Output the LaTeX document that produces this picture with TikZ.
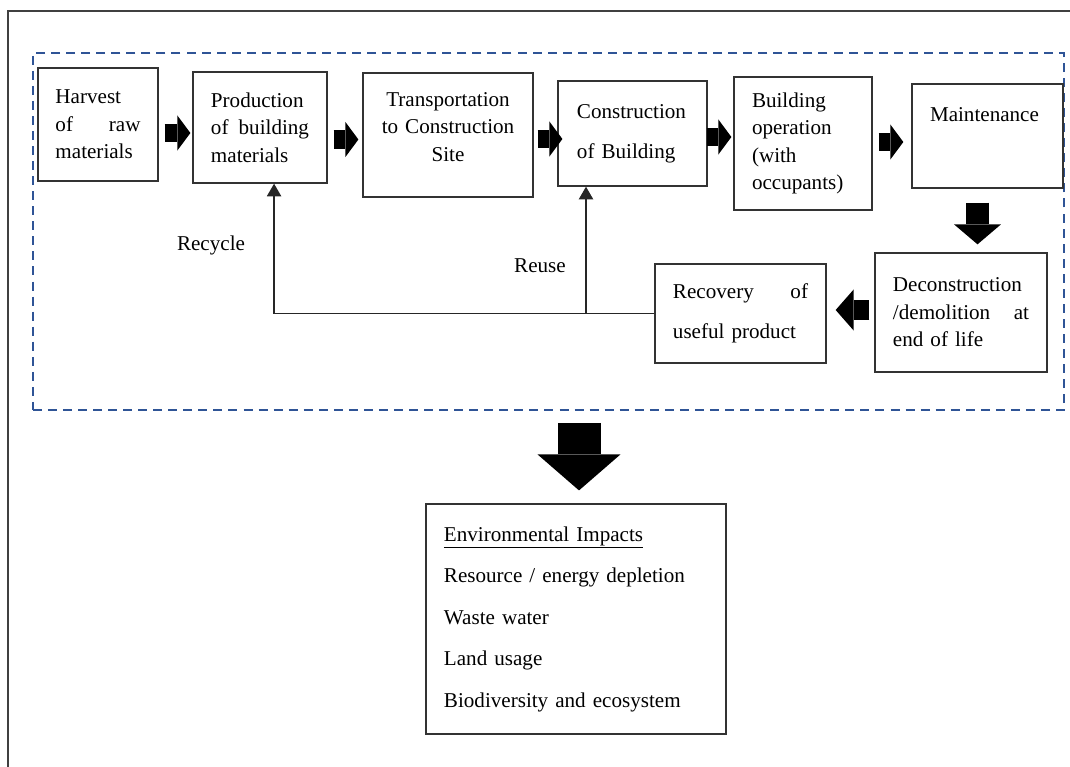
\documentclass[tikz,border=0pt]{standalone}
\usepackage{fontspec}
\setmainfont{Liberation Serif}
\usetikzlibrary{arrows.meta, calc}

\newdimen\pxu \pxu=0.7113pt
\definecolor{frameblue}{RGB}{47,84,150}

\begin{document}
\begin{tikzpicture}[x=0.025cm, y=-0.025cm,
    every node/.style={font=\fontsize{15}{19.6}\selectfont},
    stage/.style={draw=black!80, line width=0.9pt, inner sep=0pt, align=left},
    flowarrow/.style={line width=18\pxu, -{Triangle[length=9.25pt, width=24.9pt, line width=0pt]}},
    droparrow/.style={line width=23\pxu, -{Triangle[length=14.2pt, width=33.4pt, line width=0pt]}},
    backarrow/.style={line width=20\pxu, -{Triangle[length=12.8pt, width=29.2pt, line width=0pt]}},
    bigarrow/.style={line width=43\pxu, -{Triangle[length=25.6pt, width=59pt, line width=0pt]}},
    loopline/.style={draw=black!85, line width=1.4pt, -{Triangle[length=9pt, width=10pt]}}]

\useasboundingbox (0,0) rectangle (1070,767);

% page frame
\draw[black!75, line width=0.8pt] (8,767) -- (8,11) -- (1070,11);

% life cycle boundary
\node[draw=frameblue, line width=1.4pt, dash pattern=on 6.4pt off 4.3pt,
      minimum width=1031\pxu, minimum height=357\pxu] (lifecycle) at (548.5,231.5) {};

% stages
\node[stage, minimum width=120\pxu, minimum height=113\pxu, text width=85\pxu] (harvest) at (98,124.5)
    {Harvest\\ of\hfill raw\\ materials};
\node[stage, minimum width=134\pxu, minimum height=111\pxu, text width=98\pxu] (prod) at (260,127.5)
    {Production\\ of\hfill building\\ materials};
\node[stage, minimum width=170\pxu, minimum height=124\pxu, text width=150\pxu, align=center] (trans) at (448,135)
    {Transportation\\ to Construction\\ Site\\[-8pt]\mbox{}};
\node[stage, minimum width=149\pxu, minimum height=105\pxu, text width=111\pxu] (constr) at (632.5,133.5)
    {Construction\\[8.9pt] of Building};
\node[stage, minimum width=138\pxu, minimum height=133\pxu, text width=102\pxu] (oper) at (803,143.5)
    {Building\\ operation\\ (with\\ occupants)};
\node[stage, minimum width=151\pxu, minimum height=104\pxu, text width=115\pxu] (maint) at (987.5,136)
    {Maintenance\\[10.4pt]\mbox{}};
\node[stage, minimum width=172\pxu, minimum height=119\pxu, text width=136\pxu] (decon) at (961,312.5)
    {Deconstruction\\ /demolition\hfill at\\ end of life};
\node[stage, minimum width=171\pxu, minimum height=99\pxu, text width=135\pxu] (recovery) at (740.5,313.5)
    {Recovery\hfill of\\[8.9pt] useful product};

% impacts
\node[stage, minimum width=300\pxu, minimum height=230\pxu, text width=264\pxu] (impacts) at (576,619)
    {\underline{Environmental Impacts}\\[9.9pt] Resource / energy depletion\\[9.9pt] Waste water\\[9.9pt]
     Land usage\\[9.9pt] Biodiversity and ecosystem};

% flow between stages
\draw[flowarrow, shorten <=4.3pt, shorten >=1.4pt] (harvest.east |- 0,133) -- (prod.west |- 0,133);
\draw[flowarrow, shorten <=4.3pt, shorten >=2.8pt] (prod.east |- 0,139.5) -- (trans.west |- 0,139.5);
\draw[flowarrow, shorten <=2.8pt, shorten >=-3.6pt] (trans.east |- 0,139) -- (constr.west |- 0,139);
\draw[flowarrow, shorten <=-0.7pt, shorten >=1.4pt] (constr.east |- 0,137) -- (oper.west |- 0,137);
\draw[flowarrow, shorten <=4.3pt, shorten >=5.7pt] (oper.east |- 0,142) -- (maint.west |- 0,142);
\draw[droparrow, shorten <=10pt, shorten >=5.7pt] (maint.south -| 977.5,0) -- (decon.north -| 977.5,0);
\draw[backarrow, shorten <=3.6pt, shorten >=6.4pt] (decon.west |- 0,310) -- (recovery.east |- 0,310);
\draw[bigarrow, shorten <=8.5pt, shorten >=9.2pt] (lifecycle.south -| 579,0) -- (impacts.north -| 579,0);

% recycle and reuse
\draw[loopline] (recovery.west) -| ([xshift=10pt]prod.south);
\draw[loopline] (recovery.west -| 586,0) -- (constr.south -| 586,0);
\node (recyclelbl) at (211,245) {Recycle};
\node (reuselbl) at (540,266) {Reuse};

\end{tikzpicture}
\end{document}
